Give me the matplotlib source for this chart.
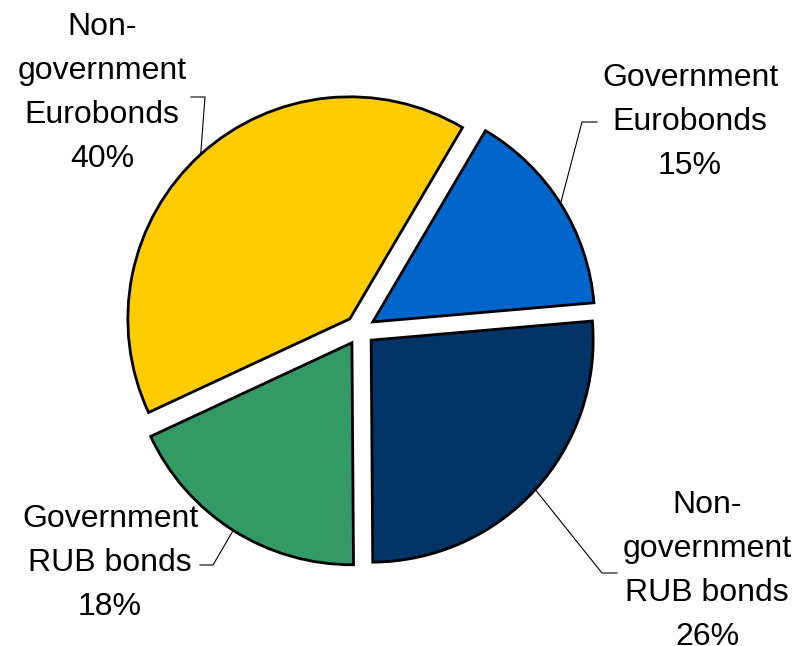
import matplotlib
matplotlib.use("Agg")
import matplotlib.pyplot as plt
import numpy as np

categories = ["Government\nEurobonds", "Non-\ngovernment\nRUB bonds",
              "Government\nRUB bonds", "Non-\ngovernment\nEurobonds"]
shares = [15, 26, 18, 40]
colors = ["#0066CC", "#003366", "#339966", "#FFCC00"]

W, H = 796, 646
R_PX = 222.0
CX, CY = 360.0, 330.0

def p2d(px, py):
    return (px - CX) / R_PX, (CY - py) / R_PX

fig = plt.figure(figsize=(W / 100, H / 100), dpi=100)
ax = fig.add_axes([0, 0, 1, 1])
plt.rcParams['font.family'] = ['Liberation Sans', 'DejaVu Sans']

explode = [0.068] * len(shares)
wedges, _ = ax.pie(shares, colors=colors, explode=explode, startangle=59.5,
                   counterclock=False, radius=1.0,
                   wedgeprops=dict(edgecolor="black", linewidth=2.0))

ax.set_xlim(-CX / R_PX, (W - CX) / R_PX)
ax.set_ylim(-(H - CY) / R_PX, CY / R_PX)
ax.set_aspect('equal')
ax.axis('off')

# label layout (pixel positions): text centre, elbow, line end
layout = [
    ((690, 122), (582, 122), (597, 122)),
    ((707, 571), (602, 573), (617, 573)),
    ((110, 563), (213, 565), (200, 565)),
    ((102, 93), (205, 97), (191, 97)),
]

for w, cat, val, (tc, el, en) in zip(wedges, categories, shares, layout):
    mid = np.deg2rad((w.theta1 + w.theta2) / 2)
    cx, cy = w.center
    ax_pt = (cx + w.r * np.cos(mid), cy + w.r * np.sin(mid))
    e1 = p2d(*el)
    e2 = p2d(*en)
    ax.plot([ax_pt[0], e1[0], e2[0]], [ax_pt[1], e1[1], e2[1]],
            color="black", lw=0.8, zorder=0)
    tx, ty = p2d(*tc)
    ax.text(tx, ty, f"{cat}\n{val}%", ha="center", va="center",
            multialignment="center", fontsize=23, linespacing=1.6,
            color="black")

fig.savefig("out.png", dpi=100)
